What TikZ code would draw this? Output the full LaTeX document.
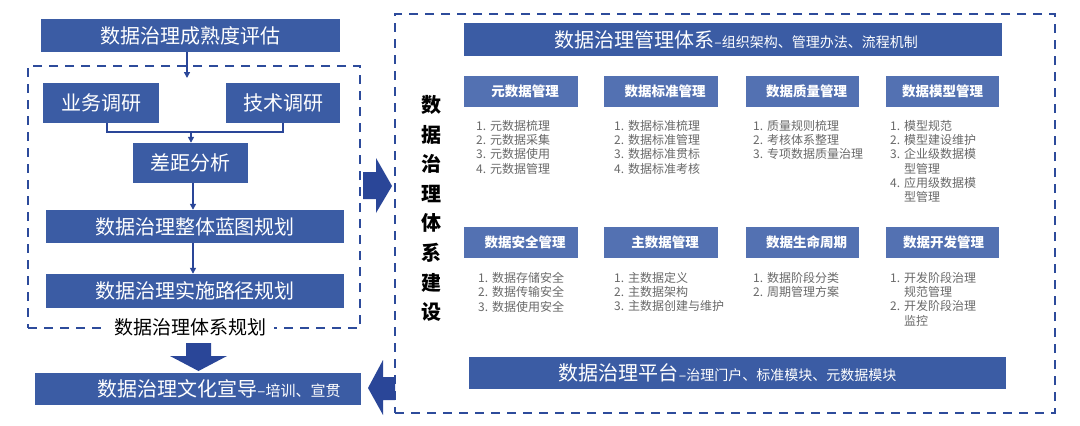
\documentclass[tikz,border=0pt]{standalone}
\usepackage{fontspec}
\setmainfont{Noto Sans CJK SC}
\usetikzlibrary{arrows.meta,calc}
\definecolor{boxblue}{RGB}{59,92,164}
\definecolor{modblue}{RGB}{83,113,178}
\definecolor{arrowblue}{RGB}{42,70,152}
\definecolor{dashblue}{RGB}{45,75,155}
\definecolor{listgray}{RGB}{105,105,105}
\begin{document}
\begin{tikzpicture}[x=1pt,y=-1pt,
  mainbox/.style={fill=boxblue, text=white, inner sep=0pt, font=\fontsize{20}{24}\selectfont},
  modbox/.style={fill=modblue, text=white, inner sep=0pt, minimum width=114pt, minimum height=31pt, font=\fontsize{13.5}{16}\selectfont\bfseries},
  listtxt/.style={text=listgray, inner sep=0pt, anchor=north west, font=\fontsize{12}{13.7}\selectfont},
  thinline/.style={draw=arrowblue, line width=1.4pt},
  thinarrow/.style={thinline, -{Triangle[length=6pt,width=6pt]}},
  dashbox/.style={draw=dashblue, line width=2pt, dash pattern=on 9pt off 7pt, inner sep=0pt},
  blockarrow/.style={fill=arrowblue}
]
\useasboundingbox[fill=white] (0,0) rectangle (1080,426);

% group frames
\node[dashbox, minimum width=332pt, minimum height=262pt] (leftgrp) at (194,197) {};
\node[dashbox, minimum width=660pt, minimum height=399pt] (rightgrp) at (725,213.5) {};

% left column
\node[mainbox, minimum width=299pt, minimum height=33pt] (mat) at (190.5,35.5) {数据治理成熟度评估};
\node[mainbox, minimum width=116pt, minimum height=40pt] (yw) at (101,103) {业务调研};
\node[mainbox, minimum width=114pt, minimum height=40pt] (js) at (283,103) {技术调研};
\node[mainbox, minimum width=115pt, minimum height=40pt] (cj) at (190.5,163) {差距分析};
\node[mainbox, minimum width=298pt, minimum height=33pt] (lt) at (195,226.5) {数据治理整体蓝图规划};
\node[mainbox, minimum width=298pt, minimum height=34pt] (lj) at (195,291) {数据治理实施路径规划};
\node[fill=white, text=black, inner xsep=8pt, inner ysep=2pt, font=\fontsize{19}{22}\selectfont] (lbl) at (190,327) {数据治理体系规划};
\node[mainbox, minimum width=326pt, minimum height=32pt] (wh) at (198,389)
  {\hspace*{42pt}\fontsize{20}{24}\selectfont 数据治理文化宣导{\fontsize{15}{18}\selectfont –培训、宣贯}};

% thin arrows
\coordinate (a1) at (187,78);
\draw[thinarrow] (mat.south -| a1) -- (a1);
\coordinate (jn) at (191,132);
\coordinate (ywb) at (107,123);
\draw[thinline] (ywb) |- (jn) -| (js.south);
\draw[thinarrow] (jn) -- (jn |- cj.north);
\coordinate (c2) at (193,183);
\draw[thinarrow] (c2) -- (c2 |- lt.north);
\coordinate (c3) at (193,243);
\draw[thinarrow] (c3) -- (c3 |- lj.north);

% block arrows
\fill[blockarrow] (186,343) -- (211,343) -- (211,356) -- (227,356) -- (198.5,371) -- (170,356) -- (186,356) -- cycle;
\fill[blockarrow] (363,172) -- (376,172) -- (376,158) -- (392,186) -- (376,213) -- (376,199) -- (363,199) -- cycle;
\fill[blockarrow] (395,377) -- (383,377) -- (383,360) -- (368,388) -- (383,415) -- (383,400) -- (395,400) -- cycle;

% right side
\node[align=center, text=black, inner sep=0pt, font=\fontsize{20}{29.57}\selectfont\bfseries] (vt) at (431,208.5)
  {数\\据\\治\\理\\体\\系\\建\\设};
\node[mainbox, minimum width=538pt, minimum height=33pt] (gl) at (733,39.5)
  {\hspace*{6pt}数据治理管理体系{\fontsize{14}{17}\selectfont –组织架构、管理办法、流程机制}};
\node[mainbox, minimum width=537pt, minimum height=32pt] (pt) at (737.5,373)
  {数据治理平台{\fontsize{14}{17}\selectfont –治理门户、标准模块、元数据模块}\hspace*{20pt}};

\node[modbox] (m1) at (521,91.5) {\hspace*{8pt}元数据管理};
\node[modbox] (m2) at (661,91.5) {\hspace*{8pt}数据标准管理};
\node[modbox, minimum width=113pt] (m3) at (802.5,91.5) {\hspace*{8pt}数据质量管理};
\node[modbox, minimum width=113pt] (m4) at (942.5,91.5) {数据模型管理};
\node[modbox] (m5) at (521,242.5) {\hspace*{8pt}数据安全管理};
\node[modbox] (m6) at (661,242.5) {\hspace*{8pt}主数据管理};
\node[modbox, minimum width=113pt] (m7) at (802.5,242.5) {\hspace*{8pt}数据生命周期};
\node[modbox, minimum width=113pt] (m8) at (942.5,242.5) {\hspace*{2pt}数据开发管理};

\node[listtxt] (l1) at (476,120) {\begin{tabular}{@{}r@{\hspace{4pt}}l@{}}
1. & 元数据梳理\\ 2. & 元数据采集\\ 3. & 元数据使用\\ 4. & 元数据管理\end{tabular}};
\node[listtxt] (l2) at (614,120) {\begin{tabular}{@{}r@{\hspace{4pt}}l@{}}
1. & 数据标准梳理\\ 2. & 数据标准管理\\ 3. & 数据标准贯标\\ 4. & 数据标准考核\end{tabular}};
\node[listtxt] (l3) at (753,120) {\begin{tabular}{@{}r@{\hspace{4pt}}l@{}}
1. & 质量规则梳理\\ 2. & 考核体系整理\\ 3. & 专项数据质量治理\end{tabular}};
\node[listtxt] (l4) at (890,120) {\begin{tabular}{@{}r@{\hspace{4pt}}l@{}}
1. & 模型规范\\ 2. & 模型建设维护\\ 3. & 企业级数据模\\ & 型管理\\ 4. & 应用级数据模\\ & 型管理\end{tabular}};
\node[listtxt] (l5) at (478,272) {\begin{tabular}{@{}r@{\hspace{4pt}}l@{}}
1. & 数据存储安全\\ 2. & 数据传输安全\\ 3. & 数据使用安全\end{tabular}};
\node[listtxt] (l6) at (614,272) {\begin{tabular}{@{}r@{\hspace{4pt}}l@{}}
1. & 主数据定义\\ 2. & 主数据架构\\ 3. & 主数据创建与维护\end{tabular}};
\node[listtxt] (l7) at (753,272) {\begin{tabular}{@{}r@{\hspace{4pt}}l@{}}
1. & 数据阶段分类\\ 2. & 周期管理方案\end{tabular}};
\node[listtxt] (l8) at (890,272) {\begin{tabular}{@{}r@{\hspace{4pt}}l@{}}
1. & 开发阶段治理\\ & 规范管理\\ 2. & 开发阶段治理\\ & 监控\end{tabular}};
\end{tikzpicture}
\end{document}
